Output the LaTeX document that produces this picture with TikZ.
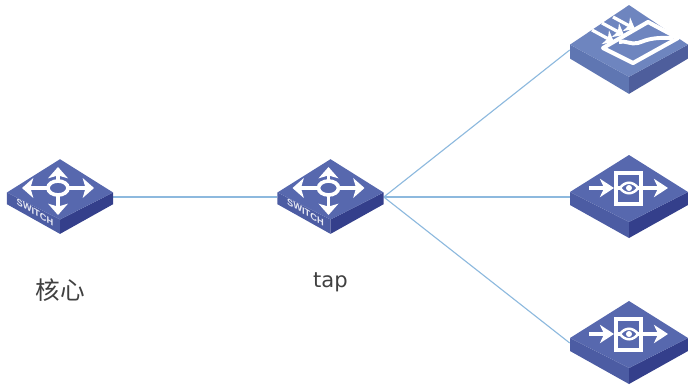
\documentclass[tikz,border=0pt]{standalone}
\usepackage{fontspec}
\setmainfont{DejaVu Sans}
\newfontfamily\cjk{Noto Sans CJK SC}
\newfontfamily\lab{Liberation Sans}
\usetikzlibrary{arrows.meta}
\definecolor{linkblue}{HTML}{8DB9DE}
\definecolor{labgray}{HTML}{404040}
\definecolor{devtop}{HTML}{5768AE}
\definecolor{devleft}{HTML}{4C5CA3}
\definecolor{devright}{HTML}{343F8B}
\definecolor{fwtop}{HTML}{6E85BF}
\definecolor{fwleft}{HTML}{5F76B2}
\definecolor{fwright}{HTML}{4E5E9C}
\tikzset{
  link/.style={draw=linkblue,line width=.8pt},
  devbox/.style={inner sep=0pt,minimum width=#1*.025cm,minimum height=.5cm},
  glyph/.style={draw=white,line width=2.3pt},
  swarrow/.style={glyph,line width=2.8pt,-{Stealth[length=8pt,width=14pt,inset=2pt]}},
  pics/devbase/.style n args={3}{code={
    \fill[#2] (-59,-5) -- (0,25) -- (0,41) -- (-59,8) -- cycle;
    \fill[#3] (59,-5) -- (0,25) -- (0,41) -- (59,8) -- cycle;
    \fill[#1] (-59,-5) -- (0,-42) -- (59,-5) -- (0,25) -- cycle;
  }},
  pics/switchdev/.style={code={
    \pic[scale=.9] {devbase={devtop}{devleft}{devright}};
    \draw[swarrow] (-2,-9) -- (-2,-30);
    \draw[swarrow] (-2,-9) -- (-2,18);
    \draw[swarrow] (-2,-9) -- (34,-9);
    \draw[swarrow] (-2,-9) -- (-38,-9);
    \draw[glyph,line width=2.6pt,fill=devtop] (-2,-9) ellipse (10 and 7);
    \node[text=white!85!devtop,font=\lab\bfseries\fontsize{6.6}{6.6}\selectfont,
      transform shape,cm={1,-.6,0,1,(0,0)}] (swtxt) at (-25,15) {SWITCH};
  }},
  pics/probedev/.style={code={
    \pic {devbase={devtop}{devleft}{devright}};
    \draw[glyph] (-13,-24) rectangle (12,7);
    \draw[glyph,-{Stealth[length=10pt,width=13pt,inset=3pt]}] (-40,-9) -- (-15,-9);
    \draw[glyph,-{Stealth[length=10pt,width=13pt,inset=3pt]}] (12,-9) -- (39,-9);
    \draw[glyph] (-13,-9) -- (-9,-9) (8,-9) -- (12,-9);
    \draw[white,line width=1.8pt,fill=devtop] (-9,-9) .. controls (-4,-16) and (4,-16) .. (9,-9)
      .. controls (4,-2) and (-4,-2) .. cycle;
    \fill[white] (0,-9) circle (3);
  }},
  pics/waferdev/.style={code={
    \pic[yscale=1.07] {devbase={fwtop}{fwleft}{fwright}};
    \draw[glyph,line width=2.9pt,line join=round] (-26,-2) -- (19,-28) -- (49,-12) -- (4,13) -- cycle;
    \draw[glyph,line width=2.8pt] (-10,-8) .. controls (-4,-10) and (2,-5) .. (9,-7)
      .. controls (16,-9) and (20,-13) .. (44,-12);
    \foreach \i/\j in {-37/-20,-27/-27,-16/-33}
      \draw[glyph,line width=2.3pt,-{Stealth[length=7pt,width=11pt,inset=2pt]}] (\i,\j) -- ++(22,12);
  }},
}
\begin{document}
\begin{tikzpicture}[x=.025cm,y=-.025cm]
\useasboundingbox (0,0) rectangle (688,388);
\node[devbox=106] (core) at (60,197) {};
\node[devbox=106] (tap) at (330.5,197) {};
\node[devbox=118] (wafer) at (629,50) {};
\node[devbox=118] (probea) at (629,197) {};
\node[devbox=118] (probeb) at (629,343) {};
\node[text=labgray,font=\cjk\fontsize{17.5}{17.5}\selectfont] (corelab) at (60,290) {核心};
\node[text=labgray,font=\fontsize{15}{15}\selectfont] (taplab) at (330.5,282) {tap};
\draw[link] (core.east) -- (tap.west);
\draw[link] (tap.east) -- (wafer.west);
\draw[link] (tap.east) -- (probea.west);
\draw[link] (tap.east) -- (probeb.west);
\pic at (core) {switchdev};
\pic at (tap) {switchdev};
\pic at (wafer) {waferdev};
\pic at (probea) {probedev};
\pic at (probeb) {probedev};
\end{tikzpicture}
\end{document}
